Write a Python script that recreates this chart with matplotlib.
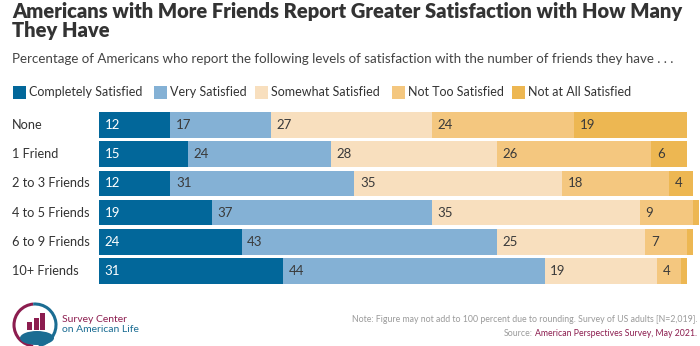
import matplotlib
matplotlib.use('Agg')
import matplotlib.pyplot as plt
from matplotlib.patches import Rectangle, Arc, Ellipse
from matplotlib.transforms import blended_transform_factory

plt.rcParams['font.family'] = ['Lato', 'DejaVu Sans']

# data
groups = ['None', '1 Friend', '2 to 3 Friends', '4 to 5 Friends', '6 to 9 Friends', '10+ Friends']
levels = ['Completely Satisfied', 'Very Satisfied', 'Somewhat Satisfied', 'Not Too Satisfied', 'Not at All Satisfied']
completely = [12, 15, 12, 19, 24, 31]
very = [17, 24, 31, 37, 43, 44]
somewhat = [27, 28, 35, 35, 25, 19]
not_too = [24, 26, 18, 9, 7, 4]
not_at_all = [19, 6, 4, 1, 1, 1]

colors = ['#02679a', '#84b1d5', '#f8dfbe', '#f4c77f', '#edb752']
text_cols = ['white', '#3a3a3a', '#3a3a3a', '#3a3a3a', '#3a3a3a']
series = [completely, very, somewhat, not_too, not_at_all]

W, H = 700, 346
fig = plt.figure(figsize=(W / 100, H / 100), dpi=100)

# background axes in pixel coords for header / legend / footer
bg = fig.add_axes([0, 0, 1, 1])
bg.set_xlim(0, W)
bg.set_ylim(H, 0)
bg.axis('off')

dark = '#333333'
bg.text(12, 2, 'Americans with More Friends Report Greater Satisfaction with How Many\nThey Have',
        fontsize=14.5, fontweight='heavy', color=dark, va='top', ha='left', linespacing=1.0)
bg.text(12, 59, 'Percentage of Americans who report the following levels of satisfaction with the number of friends they have . . .',
        fontsize=9.6, color='#444444', va='center', ha='left')

# legend
sq_x = [13, 154, 255, 392, 512]
for x, lab, c in zip(sq_x, levels, colors):
    bg.add_patch(Rectangle((x, 85.5), 12.5, 13, color=c, lw=0))
    bg.text(x + 16, 92, lab, fontsize=9, color=dark, va='center', ha='left')

# bars (5.94 px per percentage point, starting at x=99)
top_px, bot_px = 110.4, 285.6
ax = fig.add_axes([99 / W, 1 - bot_px / H, 1 - 99 / W, (bot_px - top_px) / H])
ax.set_xlim(0, (W - 99) / 5.94)
ax.set_ylim(len(groups) - 0.5, -0.5)
ax.axis('off')

ypos = list(range(len(groups)))
left = [0] * len(groups)
for vals, c, tc in zip(series, colors, text_cols):
    ax.barh(ypos, vals, left=left, height=0.873, color=c, lw=0)
    for y, l, v in zip(ypos, left, vals):
        if v >= 3:
            ax.text(l + 0.95, y, str(v), color=tc, fontsize=9.5, va='center', ha='left')
    left = [a + b for a, b in zip(left, vals)]

tr = blended_transform_factory(fig.transFigure, ax.transData)
for y, g in zip(ypos, groups):
    ax.text(12 / W, y, g, transform=tr, fontsize=9.2, color=dark, va='center', ha='left')

# footer: logo
maroon = '#8c1d4f'
teal = '#1b6d93'
cx, cy, r = 35, 325, 21
bg.add_patch(Arc((cx, cy), 2 * r, 2 * r, theta1=95, theta2=265, color=maroon, lw=2.2))
bg.add_patch(Arc((cx, cy), 2 * r, 2 * r, theta1=265, theta2=440, color=teal, lw=2.2))
for bx, bh in zip([27, 33.5, 40], [8, 12, 17]):
    bg.add_patch(Rectangle((bx, 330 - bh), 5, bh, color=maroon, lw=0))
bg.add_patch(Ellipse((cx + 2, 338), 34, 14, color=teal, lw=0))
for yy in [333, 337, 341]:
    bg.add_patch(Arc((cx + 2, yy + 8), 40, 14, theta1=30, theta2=150, color='white', lw=1))
bg.text(62, 320, 'Survey Center', fontsize=7.5, color=maroon, va='center', ha='left')
bg.text(62, 330, 'on American Life', fontsize=7.5, color=teal, va='center', ha='left')

# footer: note and source, kept inside the right edge
bg.text(697, 320, 'Note: Figure may not add to 100 percent due to rounding. Survey of US adults [N=2,019].',
        fontsize=6.3, color='#9a9a9a', va='center', ha='right')
src = bg.text(697, 333, 'American Perspectives Survey, May 2021.', fontsize=6.3, color=maroon,
              va='center', ha='right')
fig.canvas.draw()
bb = src.get_window_extent()
src_left = bg.transData.inverted().transform((bb.x0, 0))[0]
bg.text(src_left - 2, 333, 'Source:', fontsize=6.3, color='#9a9a9a', va='center', ha='right')

fig.savefig('out.png', dpi=100)
